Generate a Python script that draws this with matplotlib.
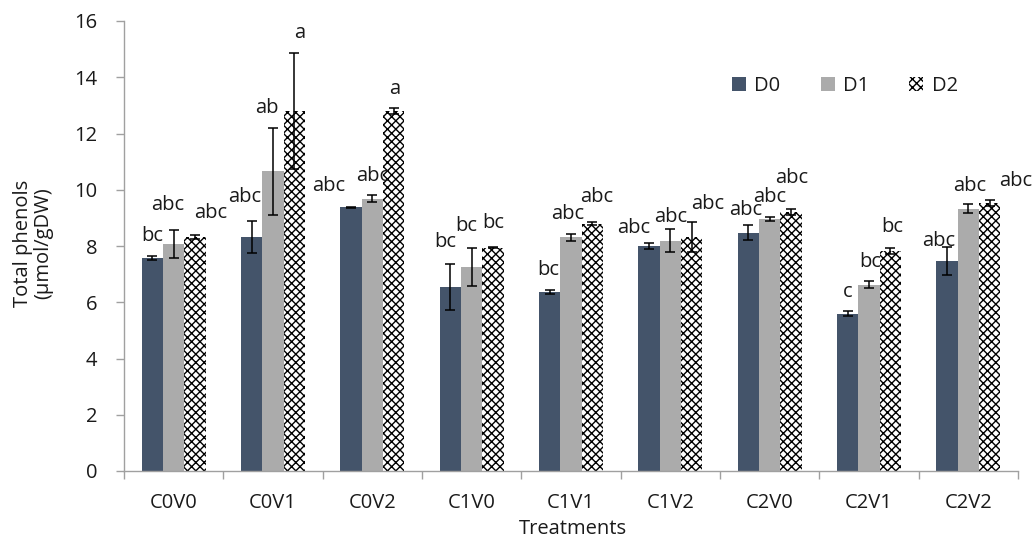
import numpy as np
import matplotlib
matplotlib.use("Agg")
import matplotlib.pyplot as plt
from matplotlib.patches import Patch

plt.rcParams['font.family'] = ['Open Sans', 'DejaVu Sans']
plt.rcParams['hatch.linewidth'] = 1.0

categories = ['C0V0', 'C0V1', 'C0V2', 'C1V0', 'C1V1', 'C1V2', 'C2V0', 'C2V1', 'C2V2']
series_names = ['D0', 'D1', 'D2']

D0 = [7.57, 8.32, 9.38, 6.55, 6.36, 8.00, 8.48, 5.60, 7.46]
D0_err = [0.07, 0.58, 0.02, 0.82, 0.07, 0.10, 0.25, 0.09, 0.49]
D1 = [8.07, 10.65, 9.68, 7.26, 8.31, 8.19, 8.95, 6.63, 9.32]
D1_err = [0.50, 1.53, 0.12, 0.68, 0.12, 0.42, 0.07, 0.11, 0.16]
D2 = [8.32, 12.80, 12.80, 7.94, 8.79, 8.31, 9.21, 7.83, 9.52]
D2_err = [0.08, 2.05, 0.10, 0.01, 0.06, 0.54, 0.10, 0.11, 0.11]

L0 = ['bc', 'abc', 'abc', 'bc', 'bc', 'abc', 'abc', 'c', 'abc']
L1 = ['abc', 'ab', 'abc', 'bc', 'abc', 'abc', 'abc', 'bc', 'abc']
L2 = ['abc', 'a', 'a', 'bc', 'abc', 'abc', 'abc', 'bc', 'abc']

# label layout (manual placement in the original): x offset in px, y gap above error bar
label_dx = [
    [0, -7, -22, -5, -1, -15, -3, 0, -8],
    [-6, -6, 0, -5, -3, 0, 0, 1, 1],
    [16, 5, 1, 0, 4, 16, 1, 2, 26],
]
label_dy = [
    [0.72, 0.85, 0.75, 0.78, 0.71, 0.53, 0.56, 0.68, 0.24],
    [0.89, 0.72, 0.70, 0.78, 0.71, 0.41, 0.74, 0.69, 0.66],
    [0.78, 0.72, 0.70, 0.85, 0.91, 0.64, 1.10, 0.72, 0.69],
]

values = [D0, D1, D2]
errors = [D0_err, D1_err, D2_err]
labels = [L0, L1, L2]

W, H = 1034, 538
FS = 14.5
fig = plt.figure(figsize=(W / 100, H / 100), dpi=100)
ax = fig.add_axes([124 / W, (H - 471) / H, (1018 - 124) / W, (471 - 21) / H])

x = np.arange(len(categories))
bw = 0.2145
text_color = '#1a1a1a'
styles = [
    dict(color='#44546A', edgecolor='#44546A', linewidth=0),
    dict(color='#ABABAB', edgecolor='#ABABAB', linewidth=0),
    dict(facecolor='white', edgecolor='black', hatch='xxxx', linewidth=0),
]

for j in range(3):
    pos = x + (j - 1) * bw
    ax.bar(pos, values[j], width=bw, **styles[j], zorder=2)
    ax.errorbar(pos, values[j], yerr=errors[j], fmt='none', ecolor='black',
                elinewidth=1.1, capsize=3.3, capthick=1.1, zorder=3)
    for k in range(len(categories)):
        ytop = values[j][k] + errors[j][k] + label_dy[j][k]
        ax.annotate(labels[j][k], (pos[k], ytop), xytext=(label_dx[j][k] * 0.72, 0),
                    textcoords='offset points', ha='center', va='center',
                    fontsize=FS, color=text_color, zorder=4)

ax.set_xlim(-0.5, len(categories) - 0.5)
ax.set_ylim(0, 16)
ax.set_yticks(np.arange(0, 17, 2))
ax.set_xticks(x)
ax.set_xticklabels(categories)
ax.set_xticks(np.arange(-0.5, len(categories)), minor=True)
ax.tick_params(axis='x', which='major', length=0, pad=16, labelsize=FS, labelcolor=text_color)
ax.tick_params(axis='x', which='minor', length=6, width=1, color='#A0A0A0', direction='out')
ax.tick_params(axis='y', length=6, width=1, color='#A0A0A0', direction='out', pad=13,
               labelsize=FS, labelcolor=text_color)

for s in ['top', 'right']:
    ax.spines[s].set_visible(False)
for s in ['left', 'bottom']:
    ax.spines[s].set_color('#A0A0A0')
    ax.spines[s].set_linewidth(1)

fig.text(33 / W, (H - 243) / H, 'Total phenols\n(µmol/gDW)', rotation=90, ha='center',
         va='center', multialignment='center', fontsize=FS, color=text_color, linespacing=1.05)
fig.text(573 / W, (H - 529) / H, 'Treatments', ha='center', va='center', fontsize=FS,
         color=text_color)

handles = [Patch(**styles[j]) for j in range(3)]
fig.legend(handles, series_names, loc='center left', bbox_to_anchor=(714 / W, (H - 86) / H),
           ncol=3, frameon=False, fontsize=FS, handlelength=0.7, handleheight=0.7,
           handletextpad=0.4, columnspacing=2.0, labelcolor=text_color)

fig.savefig('out.png', dpi=100)
